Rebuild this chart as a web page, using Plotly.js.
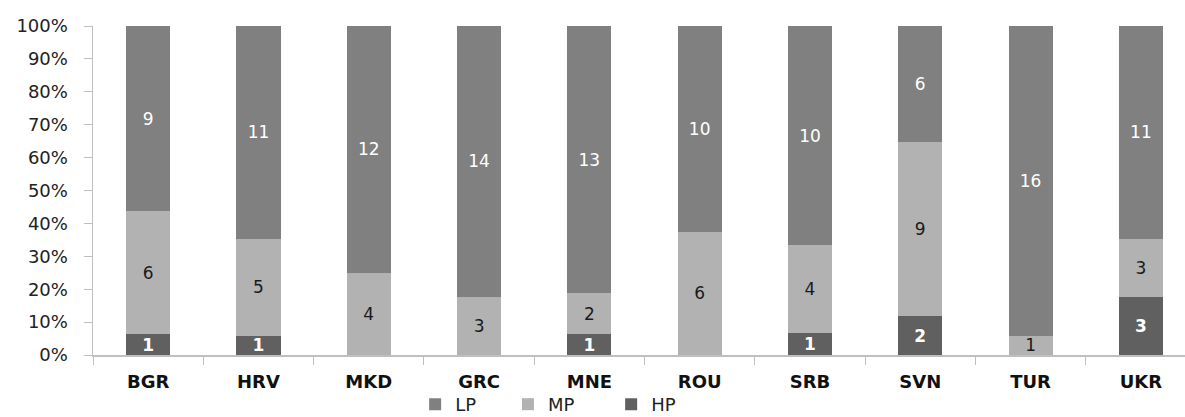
<!DOCTYPE html>
<html>
<head>
<meta charset="utf-8">
<script src="https://cdn.plot.ly/plotly-3.0.1.min.js"></script>
<style>
  html, body { margin: 0; padding: 0; background: #ffffff; }
  #chart { width: 1185px; height: 417px; }
</style>
</head>
<body>
<div id="chart"></div>
<script>
// Country codes along the x axis
const countries = ['BGR', 'HRV', 'MKD', 'GRC', 'MNE', 'ROU', 'SRB', 'SVN', 'TUR', 'UKR'];

// Counts per class, stacked and normalised to 100% per country
const hpCounts = [1, 1, 0, 0, 1, 0, 1, 2, 0, 3];
const mpCounts = [6, 5, 4, 3, 2, 6, 4, 9, 1, 3];
const lpCounts = [9, 11, 12, 14, 13, 10, 10, 6, 16, 11];

const yTicks = [0, 10, 20, 30, 40, 50, 60, 70, 80, 90, 100];

const FONT = 'DejaVu Sans, Verdana, sans-serif';

function labels(arr) {
  return arr.map(v => (v === 0 ? '' : String(v)));
}

function series(name, counts, color, textColor, bold, legendId) {
  return {
    type: 'bar',
    name: name,
    legend: legendId,
    x: countries,
    y: counts,
    text: labels(counts),
    textposition: 'inside',
    insidetextanchor: 'middle',
    textangle: 0,
    constraintext: 'none',
    textfont: { family: FONT, size: 17, color: textColor, weight: bold ? 'bold' : 'normal' },
    marker: { color: color, line: { width: 0 } },
    hoverinfo: 'x+y+name'
  };
}

const data = [
  series('HP', hpCounts, '#606060', '#ffffff', true, 'legend3'),
  series('MP', mpCounts, '#b2b2b2', '#1a1a1a', false, 'legend2'),
  series('LP', lpCounts, '#808080', '#ffffff', false, 'legend')
];

// One single-entry legend per class, laid out in a row under the axis
function legendAt(x) {
  return {
    orientation: 'h',
    xref: 'paper',
    x: x,
    xanchor: 'left',
    yref: 'container',
    y: 0.03,
    yanchor: 'middle',
    font: { family: FONT, size: 18, color: '#222222' },
    itemwidth: 30,
    borderwidth: 0,
    bgcolor: 'rgba(0,0,0,0)'
  };
}

const layout = {
  width: 1185,
  height: 417,
  margin: { l: 93, r: 0, t: 26, b: 62, pad: 0 },
  paper_bgcolor: '#ffffff',
  plot_bgcolor: '#ffffff',
  barmode: 'stack',
  barnorm: 'percent',
  bargap: 0.6,
  showlegend: true,
  font: { family: FONT, size: 18, color: '#222222' },
  xaxis: {
    type: 'category',
    range: [-0.5, 9.4],
    automargin: false,
    showgrid: false,
    zeroline: false,
    showline: true,
    linecolor: '#bfbfbf',
    linewidth: 1.5,
    ticks: 'outside',
    tickson: 'boundaries',
    ticklen: 8,
    tickcolor: '#bfbfbf',
    tickwidth: 1,
    tickfont: { family: FONT, size: 18, color: '#111111', weight: 'bold' },
    ticklabelstandoff: 10
  },
  yaxis: {
    range: [0, 100],
    automargin: false,
    tickvals: yTicks,
    ticktext: yTicks.map(v => v + '%'),
    showgrid: false,
    zeroline: false,
    showline: true,
    linecolor: '#bfbfbf',
    linewidth: 1.5,
    ticks: 'outside',
    ticklen: 8,
    tickcolor: '#bfbfbf',
    tickfont: { family: FONT, size: 18, color: '#222222' },
    ticklabelstandoff: 12
  },
  legend: legendAt(0.295),
  legend2: legendAt(0.380),
  legend3: legendAt(0.4745)
};

Plotly.newPlot('chart', data, layout, { displayModeBar: false, staticPlot: true });
</script>
</body>
</html>
